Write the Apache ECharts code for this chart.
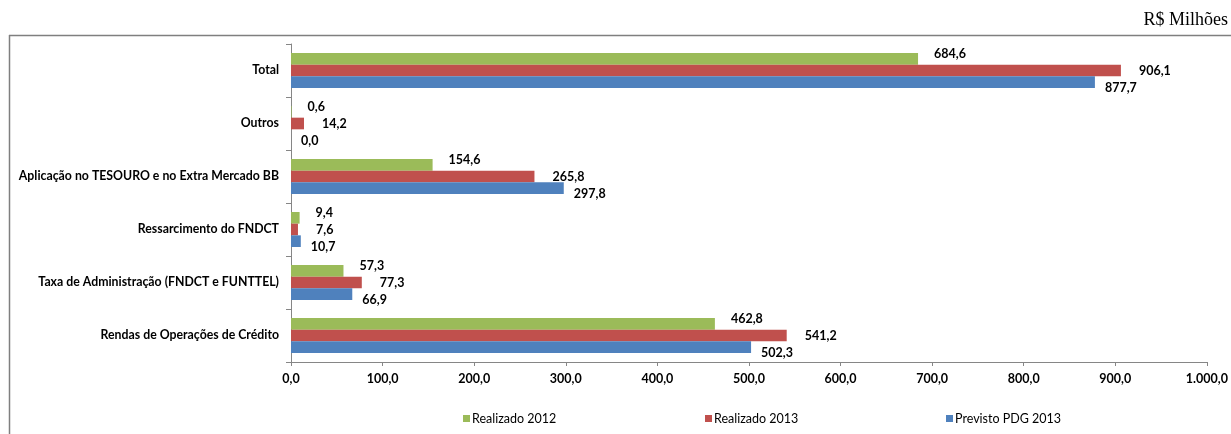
<!DOCTYPE html>
<html>
<head>
<meta charset="utf-8">
<script src="https://cdn.jsdelivr.net/npm/echarts@6/dist/echarts.min.js"></script>
<style>
  html, body { margin: 0; padding: 0; background: #ffffff; }
  #chart { width: 1231px; height: 434px; }
</style>
</head>
<body>
<div id="chart"></div>
<script>
// Categories listed bottom to top (category axis runs upward)
const categories = [
  'Rendas de Operações de Crédito',
  'Taxa de Administração (FNDCT e FUNTTEL)',
  'Ressarcimento do FNDCT',
  'Aplicação no TESOURO e no Extra Mercado BB',
  'Outros',
  'Total'
];
const realizado2012 = [462.8, 57.3, 9.4, 154.6, 0.6, 684.6];
const realizado2013 = [541.2, 77.3, 7.6, 265.8, 14.2, 906.1];
const previsto2013  = [502.3, 66.9, 10.7, 297.8, 0.0, 877.7];
const seriesNames = ['Realizado 2012', 'Realizado 2013', 'Previsto PDG 2013'];
const xTicks = { min: 0, max: 1000, interval: 100 };

const FONT = 'Lato, "DejaVu Sans", sans-serif';
const colors = { green: '#9BBB59', red: '#C0504D', blue: '#4F81BD' };

function ptBR(v) {
  const parts = v.toFixed(1).split('.');
  parts[0] = parts[0].replace(/\B(?=(\d{3})+(?!\d))/g, '.');
  return parts.join(',');
}

function barSeries(name, data, color, distance, dy) {
  return {
    name: name,
    type: 'bar',
    data: data,
    barGap: '0%',
    barCategoryGap: '34%',
    itemStyle: { color: color },
    label: {
      show: true,
      position: 'right',
      distance: distance,
      offset: [0, dy],
      color: '#000',
      fontFamily: FONT,
      fontWeight: 'bold',
      fontSize: 12.5,
      formatter: p => ptBR(p.value)
    }
  };
}

// one legend box per series, spread evenly along the bottom
function legendBox(name, left) {
  return {
    data: [name],
    left: left,
    top: 412,
    itemWidth: 7,
    itemHeight: 7,
    icon: 'rect',
    padding: 0,
    textStyle: { fontFamily: FONT, fontSize: 12.5, color: '#000', padding: [0, 0, 0, -3] }
  };
}

const chart = echarts.init(document.getElementById('chart'), null, { renderer: 'canvas' });
chart.setOption({
  animation: false,
  backgroundColor: '#ffffff',
  grid: { left: 291, right: 22, top: 44, bottom: 72, containLabel: false },
  graphic: [
    { type: 'line', shape: { x1: 9, y1: 35.5, x2: 1231, y2: 35.5 }, style: { stroke: '#7f7f7f', lineWidth: 1.5 } },
    { type: 'line', shape: { x1: 9.5, y1: 35, x2: 9.5, y2: 434 }, style: { stroke: '#7f7f7f', lineWidth: 1.5 } },
    { type: 'text', right: 3, top: 11, style: { text: 'R$ Milhões', font: '18px "Liberation Serif", "Times New Roman", serif', fill: '#000' } }
  ],
  legend: [
    legendBox(seriesNames[0], 463),
    legendBox(seriesNames[1], 705),
    legendBox(seriesNames[2], 946)
  ],
  xAxis: {
    type: 'value',
    min: xTicks.min,
    max: xTicks.max,
    interval: xTicks.interval,
    splitLine: { show: false },
    axisLine: { show: true, lineStyle: { color: '#868686' } },
    axisTick: { show: true, length: 4, lineStyle: { color: '#868686' } },
    axisLabel: { color: '#000', fontFamily: FONT, fontWeight: 'bold', fontSize: 12.5, margin: 10, formatter: v => ptBR(v) }
  },
  yAxis: {
    type: 'category',
    data: categories,
    axisLine: { show: true, lineStyle: { color: '#868686' } },
    axisTick: { show: true, length: 5, interval: 0, lineStyle: { color: '#868686' } },
    axisLabel: { color: '#000', fontFamily: FONT, fontWeight: 'bold', fontSize: 12.3, margin: 12 }
  },
  series: [
    barSeries(seriesNames[0], realizado2012, colors.green, 16, -5),
    barSeries(seriesNames[1], realizado2013, colors.red, 18, 0),
    barSeries(seriesNames[2], previsto2013, colors.blue, 10, 6)
  ]
});
</script>
</body>
</html>
